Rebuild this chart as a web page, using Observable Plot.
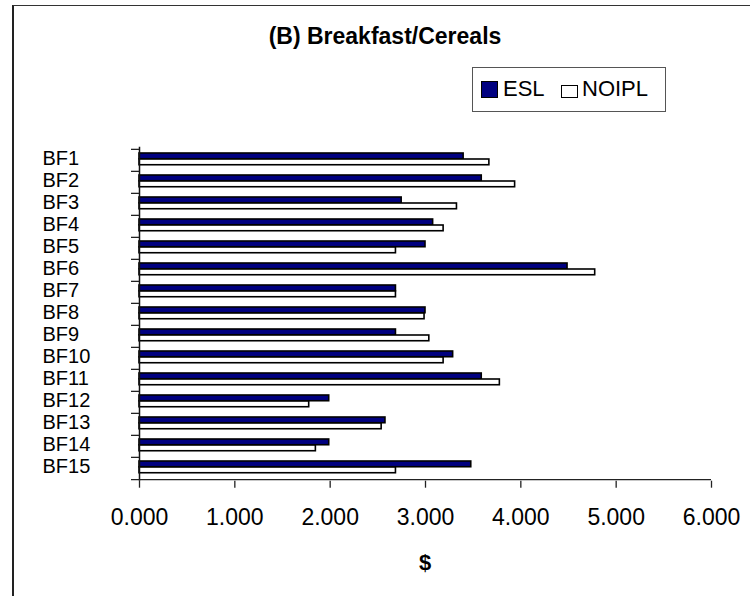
<!DOCTYPE html>
<html>
<head>
<meta charset="utf-8">
<script src="https://cdn.jsdelivr.net/npm/d3@7"></script>
<script src="https://cdn.jsdelivr.net/npm/@observablehq/plot@0.6"></script>
<style>
  html, body { margin: 0; padding: 0; background: #fff; }
  #wrap { position: relative; width: 750px; height: 596px; overflow: hidden; font-family: "Liberation Sans", Arial, sans-serif; color: #000; }
  #border { position: absolute; left: 12px; top: 5px; width: 800px; height: 700px; border-left: 2px solid #222; border-top: 1.5px solid #333; }
  #chart { position: absolute; left: 0; top: 0; }
  #title { position: absolute; left: 185px; width: 400px; top: 23px; text-align: center; font-weight: bold; font-size: 23px; line-height: 27px; }
  #legend { position: absolute; left: 472px; top: 67px; width: 192px; height: 43px; border: 1px solid #555; background: #fff; }
  .key { position: absolute; border: 1.3px solid #000; }
  .ltext { position: absolute; font-size: 22px; line-height: 26px; top: 8px; }
  #xlabel { position: absolute; left: 375px; width: 100px; top: 550px; text-align: center; font-weight: bold; font-size: 22px; line-height: 26px; }
</style>
</head>
<body>
<div id="wrap">
  <div id="border"></div>
  <div id="chart"></div>
  <div id="title"></div>
  <div id="legend"></div>
  <div id="xlabel"></div>
</div>
<script>
const title = "(B) Breakfast/Cereals";
const xTitle = "$";
const categories = ["BF1","BF2","BF3","BF4","BF5","BF6","BF7","BF8","BF9","BF10","BF11","BF12","BF13","BF14","BF15"];
const seriesNames = ["ESL", "NOIPL"];
const seriesColors = ["#000080", "#ffffff"];
const esl   = [3.40, 3.59, 2.75, 3.08, 3.00, 4.49, 2.69, 3.00, 2.69, 3.29, 3.59, 1.99, 2.58, 1.99, 3.48];
const noipl = [3.67, 3.94, 3.33, 3.19, 2.69, 4.78, 2.69, 2.99, 3.04, 3.19, 3.78, 1.78, 2.54, 1.85, 2.69];
const xTicks = [0, 1, 2, 3, 4, 5, 6];

const data = categories.map((c, i) => ({cat: c, esl: esl[i], noipl: noipl[i]}));

const marginTop = 146.7, marginBottom = 115.3;
const step = (596 - marginTop - marginBottom) / categories.length;

const chart = Plot.plot({
  width: 750,
  height: 596,
  marginLeft: 139,
  marginRight: 39,
  marginTop,
  marginBottom,
  style: {fontFamily: "'Liberation Sans', Arial, sans-serif", fontSize: "20px", color: "#000", background: "transparent", overflow: "visible"},
  x: {domain: [0, 6]},
  y: {domain: categories, padding: 0},
  marks: [
    Plot.barX(data, {y: "cat", x: "esl", fill: seriesColors[0], stroke: "#000", strokeWidth: 1.6, insetTop: 4, insetBottom: step - 10}),
    Plot.barX(data, {y: "cat", x: "noipl", fill: seriesColors[1], stroke: "#000", strokeWidth: 1.6, insetTop: 10, insetBottom: step - 16}),
    Plot.ruleX([0], {stroke: "#111", strokeWidth: 1.5}),
    // category boundary ticks (top of every band)
    Plot.ruleY(categories, {y: d => d, dy: -step / 2, x1: 0, x2: 0, insetLeft: -8, stroke: "#222", strokeWidth: 1.3}),
    // bottom axis line, extending one tick to the left
    Plot.ruleY(categories.slice(-1), {y: d => d, dy: step / 2, insetLeft: -8, stroke: "#222", strokeWidth: 1.3}),
    Plot.axisY({tickSize: 0, tickPadding: 97, textAnchor: "start", label: null, dy: -2, fontSize: 20}),
    Plot.axisX({ticks: xTicks, tickFormat: d3.format(".3f"), tickSize: 7, tickPadding: 20, label: null, fontSize: 23, stroke: "#222", strokeWidth: 1.3})
  ]
});
document.getElementById("chart").appendChild(chart);

document.getElementById("title").textContent = title;
document.getElementById("xlabel").textContent = xTitle;

const legend = document.getElementById("legend");
const keyLeft = [8, 88];
const keyTop = [13, 17];
const keySize = [[15, 15], [15, 11]];
const textLeft = [30, 109];
seriesNames.forEach((name, i) => {
  const k = document.createElement("div");
  k.className = "key";
  k.style.left = keyLeft[i] + "px";
  k.style.top = keyTop[i] + "px";
  k.style.width = keySize[i][0] + "px";
  k.style.height = keySize[i][1] + "px";
  k.style.background = seriesColors[i];
  legend.appendChild(k);
  const t = document.createElement("div");
  t.className = "ltext";
  t.style.left = textLeft[i] + "px";
  t.textContent = name;
  legend.appendChild(t);
});
</script>
</body>
</html>
